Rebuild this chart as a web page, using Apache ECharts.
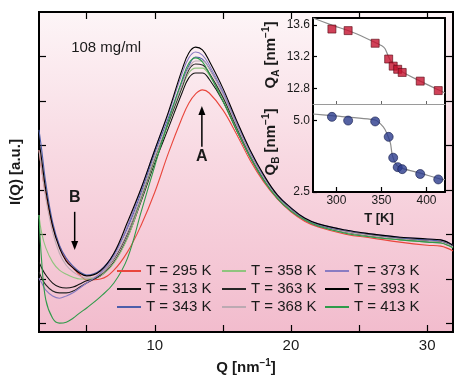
<!DOCTYPE html>
<html><head><meta charset="utf-8">
<script src="https://cdn.jsdelivr.net/npm/echarts@6/dist/echarts.min.js"></script>
<style>html,body{margin:0;padding:0;background:#fff}#c{width:461px;height:388px}</style>
</head><body><div id="c"></div>
<script>
// ---- main panel data: I(Q) curves (arbitrary units) ----
const qGrid = [1.5, 1.7, 2.0, 2.5, 3.0, 3.5, 4.0, 4.5, 5.0, 6.0, 7.0, 8.0, 9.0, 10.0, 11.0, 12.0, 12.5, 13.0, 13.5, 14.0, 15.0, 16.0, 17.0, 18.0, 19.0, 20.0, 21.0, 22.0, 24.0, 26.0, 28.0, 30.0, 31.0, 31.9];
const I295 = [4.90, 4.45, 3.89, 3.19, 2.74, 2.43, 2.25, 2.09, 1.98, 2.00, 2.20, 2.61, 3.21, 3.95, 4.83, 5.62, 5.95, 6.16, 6.25, 6.18, 5.80, 5.26, 4.67, 4.18, 3.80, 3.51, 3.30, 3.17, 3.01, 2.92, 2.83, 2.76, 2.74, 2.63];
const I313 = [2.38, 2.25, 2.09, 1.91, 1.82, 1.80, 1.82, 1.89, 1.96, 2.07, 2.38, 2.94, 3.75, 4.61, 5.39, 6.18, 6.52, 6.63, 6.63, 6.49, 6.00, 5.35, 4.74, 4.22, 3.82, 3.53, 3.33, 3.19, 3.06, 2.97, 2.90, 2.85, 2.83, 2.72];
const I343 = [5.35, 4.90, 4.16, 3.28, 2.76, 2.47, 2.29, 2.16, 2.09, 2.20, 2.56, 3.15, 3.95, 4.83, 5.62, 6.43, 6.79, 6.99, 6.94, 6.74, 6.18, 5.48, 4.83, 4.29, 3.86, 3.57, 3.35, 3.21, 3.08, 2.99, 2.92, 2.88, 2.85, 2.74];
const I358 = [3.44, 3.03, 2.70, 2.38, 2.20, 2.11, 2.04, 2.00, 2.00, 2.07, 2.36, 2.92, 3.78, 4.67, 5.48, 6.29, 6.63, 6.74, 6.74, 6.58, 6.07, 5.39, 4.76, 4.22, 3.82, 3.53, 3.33, 3.19, 3.03, 2.94, 2.88, 2.83, 2.81, 2.70];
const I363 = [2.16, 2.02, 1.87, 1.73, 1.69, 1.69, 1.73, 1.82, 1.91, 2.09, 2.45, 3.03, 3.84, 4.72, 5.51, 6.31, 6.70, 6.83, 6.81, 6.63, 6.09, 5.42, 4.79, 4.25, 3.84, 3.55, 3.33, 3.19, 3.06, 2.97, 2.90, 2.85, 2.83, 2.72];
const I368 = [4.90, 4.45, 3.82, 3.06, 2.58, 2.31, 2.16, 2.07, 2.02, 2.11, 2.47, 3.06, 3.86, 4.74, 5.55, 6.36, 6.74, 6.90, 6.90, 6.72, 6.16, 5.46, 4.81, 4.27, 3.84, 3.55, 3.33, 3.19, 3.06, 2.97, 2.90, 2.85, 2.83, 2.72];
const I373 = [2.02, 1.91, 1.75, 1.62, 1.57, 1.62, 1.69, 1.80, 1.91, 2.13, 2.52, 3.19, 4.02, 4.90, 5.71, 6.61, 6.97, 7.10, 7.03, 6.81, 6.22, 5.53, 4.88, 4.31, 3.89, 3.60, 3.37, 3.24, 3.10, 3.01, 2.94, 2.90, 2.88, 2.76];
const I393 = [5.12, 4.67, 4.00, 3.19, 2.70, 2.40, 2.25, 2.13, 2.07, 2.18, 2.58, 3.28, 4.04, 4.90, 5.75, 6.70, 7.08, 7.21, 7.15, 6.90, 6.29, 5.57, 4.90, 4.34, 3.89, 3.60, 3.37, 3.24, 3.10, 3.01, 2.94, 2.90, 2.88, 2.76];
const I413 = [3.44, 2.38, 1.53, 1.12, 1.01, 1.03, 1.12, 1.24, 1.35, 1.60, 1.91, 2.47, 3.51, 4.54, 5.55, 6.47, 6.85, 6.97, 6.88, 6.61, 6.00, 5.35, 4.74, 4.22, 3.82, 3.53, 3.33, 3.19, 3.03, 2.94, 2.88, 2.83, 2.81, 2.70];
const tempLabels = ['T = 295 K', 'T = 313 K', 'T = 343 K', 'T = 358 K', 'T = 363 K', 'T = 368 K', 'T = 373 K', 'T = 393 K', 'T = 413 K'];
const qxTicks = [5, 10, 15, 20, 25, 30];
const qxLabels = [10, 20, 30];
const iyTicks = [1, 2, 3, 4, 5, 6, 7];

// ---- inset data ----
const insetT = [295, 313, 343, 358, 363, 368, 373, 393, 413];
const insetQA = [13.55, 13.53, 13.37, 13.17, 13.08, 13.04, 13.00, 12.89, 12.77];
const insetQB = [5.13, 5.00, 4.97, 4.43, 3.70, 3.37, 3.30, 3.13, 2.94];
const fitAT = [274, 295, 320, 343, 350, 354, 357, 360, 373, 393, 413, 420.5];
const fitAQ = [13.69, 13.60, 13.50, 13.38, 13.34, 13.30, 13.22, 13.15, 13.01, 12.89, 12.78, 12.74];
const fitBT = [274, 295, 343, 352, 356, 360, 362, 367, 374, 393, 415, 420.5];
const fitBQ = [5.23, 5.17, 5.02, 4.78, 4.55, 4.20, 3.79, 3.43, 3.32, 3.16, 2.96, 2.93];
const tTicks = [300, 350, 400];
const qaTicks = [12.8, 13.2, 13.6];
const qbTicks = [2.5, 5.0];

// ---- annotations (data coordinates) ----
const arrowA = [[13.46, 4.97], [13.46, 5.89]];
const arrowB = [[4.12, 3.51], [4.12, 2.65]];
const textMarks = [
  {name: 'A', coord: [13.46, 4.74], bold: true},
  {name: 'B', coord: [4.12, 3.84], bold: true},
  {name: '108 mg/ml', coord: [6.43, 7.19], bold: false}
];

const FONT = '"Liberation Sans", Arial, Helvetica, sans-serif';
const TXT = '#1a1a1a';
const curveSets = [I295, I313, I343, I358, I363, I368, I373, I393, I413];
const curveColors = ['#e9463c', '#111111', '#4d5eaa', '#8fc47e', '#262626', '#bcaab2', '#8a7cc2', '#000000', '#2f9b4a'];

const chart = echarts.init(document.getElementById('c'), null, {renderer: 'canvas'});

const mainSeries = curveSets.map((arr, k) => ({
  name: tempLabels[k], type: 'line', xAxisIndex: 0, yAxisIndex: 0,
  data: qGrid.map((q, i) => [q, arr[i]]),
  symbol: 'none', showSymbol: false, smooth: 0.4,
  lineStyle: {width: 1.1, color: curveColors[k]}, itemStyle: {color: curveColors[k]},
  z: 3
}));
mainSeries[0].markPoint = {
  silent: true, symbol: 'circle', symbolSize: 1,
  itemStyle: {color: 'rgba(0,0,0,0)'},
  data: textMarks.map(t => ({
    name: t.name, coord: t.coord,
    label: {show: true, position: 'inside', formatter: t.name, color: TXT,
      fontFamily: FONT, fontSize: t.bold ? 16 : 15, fontWeight: t.bold ? 'bold' : 'normal'}
  }))
};

const bgGrad = new echarts.graphic.LinearGradient(0, 0, 0, 1, [
  {offset: 0, color: '#fdf5f7'},
  {offset: 0.45, color: '#f8d9e2'},
  {offset: 1, color: '#f2bccd'}
]);

const tickStyle = {color: '#000', width: 1.2};
const nameRich = {
  b: {fontSize: 15, fontWeight: 'bold', fontFamily: FONT, color: TXT, lineHeight: 20},
  s: {fontSize: 10, fontWeight: 'bold', fontFamily: FONT, color: TXT, lineHeight: 10, verticalAlign: 'top'},
  u: {fontSize: 10, fontWeight: 'bold', fontFamily: FONT, color: TXT, lineHeight: 10, verticalAlign: 'bottom'}
};

const insetAxisLabel = (vals) => ({customValues: vals, fontSize: 12, color: TXT, fontFamily: FONT, margin: 3,
  formatter: v => Number(v).toFixed(1)});

const option = {
  animation: false,
  backgroundColor: '#fff',
  grid: [
    {left: 39, top: 12, right: 8, bottom: 56, show: true, backgroundColor: bgGrad, borderColor: '#000', borderWidth: 2, containLabel: false, outerBoundsMode: 'none'},
    {left: 313, top: 18, width: 132, height: 86, show: true, backgroundColor: '#fff', borderWidth: 0, containLabel: false, outerBoundsMode: 'none'},
    {left: 313, top: 104, width: 132, height: 88, show: true, backgroundColor: '#fff', borderWidth: 0, containLabel: false, outerBoundsMode: 'none'}
  ],
  xAxis: [
    {gridIndex: 0, type: 'value', min: 1.5, max: 31.9, position: 'bottom',
      axisLine: {show: false, onZero: false}, splitLine: {show: false},
      axisTick: {show: true, inside: true, length: 7, customValues: qxTicks, lineStyle: tickStyle},
      axisLabel: {customValues: qxLabels, fontSize: 15, color: TXT, fontFamily: FONT, margin: 6},
      name: '{b|Q [nm}{s|−1}{b|]}', nameLocation: 'middle', nameGap: 25,
      nameTextStyle: {rich: nameRich}},
    {gridIndex: 0, type: 'value', min: 1.5, max: 31.9, position: 'top',
      axisLine: {show: false, onZero: false}, splitLine: {show: false},
      axisTick: {show: true, inside: true, length: 7, customValues: qxTicks, lineStyle: tickStyle},
      axisLabel: {show: false}},
    {gridIndex: 1, type: 'value', min: 274, max: 420.5, position: 'bottom',
      axisLine: {show: true, onZero: false, lineStyle: {color: '#9a9a9a', width: 1}}, splitLine: {show: false},
      axisTick: {show: true, inside: true, length: 3, customValues: tTicks, lineStyle: {color: '#666', width: 1}},
      axisLabel: {show: false}},
    {gridIndex: 1, type: 'value', min: 274, max: 420.5, position: 'top',
      axisLine: {show: true, onZero: false, lineStyle: {color: '#000', width: 2}}, splitLine: {show: false},
      axisTick: {show: false}, axisLabel: {show: false}},
    {gridIndex: 2, type: 'value', min: 274, max: 420.5, position: 'bottom',
      axisLine: {show: true, onZero: false, lineStyle: {color: '#000', width: 2}}, splitLine: {show: false},
      axisTick: {show: true, inside: true, length: 5, customValues: tTicks, lineStyle: tickStyle},
      axisLabel: {customValues: tTicks, fontSize: 12, color: TXT, fontFamily: FONT, margin: 3},
      name: 'T [K]', nameLocation: 'middle', nameGap: 20,
      nameTextStyle: {fontSize: 13, fontWeight: 'bold', fontFamily: FONT, color: TXT}}
  ],
  yAxis: [
    {gridIndex: 0, type: 'value', min: 0.81, max: 8, position: 'left',
      axisLine: {show: false, onZero: false}, splitLine: {show: false},
      axisTick: {show: true, inside: true, length: 7, customValues: iyTicks, lineStyle: tickStyle},
      axisLabel: {show: false},
      name: 'I(Q) [a.u.]', nameLocation: 'middle', nameGap: 16,
      nameTextStyle: {fontSize: 15, fontWeight: 'bold', fontFamily: FONT, color: TXT}},
    {gridIndex: 0, type: 'value', min: 0.81, max: 8, position: 'right',
      axisLine: {show: false, onZero: false}, splitLine: {show: false},
      axisTick: {show: true, inside: true, length: 7, customValues: iyTicks, lineStyle: tickStyle},
      axisLabel: {show: false}},
    {gridIndex: 1, type: 'value', min: 12.6, max: 13.69, position: 'left',
      axisLine: {show: true, onZero: false, lineStyle: {color: '#000', width: 2}}, splitLine: {show: false},
      axisTick: {show: true, inside: true, length: 4, customValues: qaTicks, lineStyle: tickStyle},
      axisLabel: insetAxisLabel(qaTicks),
      name: '{b|Q}{u|A}{b| [nm}{s|−1}{b|]}', nameLocation: 'middle', nameGap: 32,
      nameTextStyle: {rich: nameRich, padding: [0, 0, 0, 12]}},
    {gridIndex: 1, type: 'value', min: 12.6, max: 13.69, position: 'right',
      axisLine: {show: true, onZero: false, lineStyle: {color: '#000', width: 2}}, splitLine: {show: false},
      axisTick: {show: false}, axisLabel: {show: false}},
    {gridIndex: 2, type: 'value', min: 2.5, max: 5.58, position: 'left',
      axisLine: {show: true, onZero: false, lineStyle: {color: '#000', width: 2}}, splitLine: {show: false},
      axisTick: {show: true, inside: true, length: 4, customValues: qbTicks, lineStyle: tickStyle},
      axisLabel: insetAxisLabel(qbTicks),
      name: '{b|Q}{u|B}{b| [nm}{s|−1}{b|]}', nameLocation: 'middle', nameGap: 32,
      nameTextStyle: {rich: nameRich, padding: [0, 0, 0, 12]}},
    {gridIndex: 2, type: 'value', min: 2.5, max: 5.58, position: 'right',
      axisLine: {show: true, onZero: false, lineStyle: {color: '#000', width: 2}}, splitLine: {show: false},
      axisTick: {show: false}, axisLabel: {show: false}}
  ],
  legend: [[0, 1, 2], [3, 4, 5], [6, 7, 8]].map((idx, k) => ({
    orient: 'vertical', left: [117, 222, 325][k], top: 262, padding: 0, itemGap: 0,
    itemWidth: 24, itemHeight: 2, icon: 'rect', selectedMode: false,
    data: idx.map(i => tempLabels[i]),
    textStyle: {fontSize: 15, lineHeight: 18, color: TXT, fontFamily: FONT}
  })),
  series: mainSeries.concat([
    {type: 'line', xAxisIndex: 2, yAxisIndex: 2, data: fitAT.map((t, i) => [t, fitAQ[i]]),
      symbol: 'none', smooth: 0.2, lineStyle: {color: '#8c8c8c', width: 1.2}, z: 3},
    {type: 'scatter', xAxisIndex: 2, yAxisIndex: 2, data: insetT.map((t, i) => [t, insetQA[i]]),
      symbol: 'rect', symbolSize: 8, itemStyle: {color: '#c4122e', borderColor: '#5a0a14', borderWidth: 0.8}, z: 4},
    {type: 'line', xAxisIndex: 4, yAxisIndex: 4, data: fitBT.map((t, i) => [t, fitBQ[i]]),
      symbol: 'none', smooth: 0.2, lineStyle: {color: '#8c8c8c', width: 1.2}, z: 3},
    {type: 'scatter', xAxisIndex: 4, yAxisIndex: 4, data: insetT.map((t, i) => [t, insetQB[i]]),
      symbol: 'circle', symbolSize: 9, itemStyle: {color: '#2b3b8c', borderColor: '#141c4c', borderWidth: 0.8}, z: 4}
  ])
};
chart.setOption(option);

// arrows drawn from data coordinates through the main axes
function arrowElements(a) {
  const p0 = chart.convertToPixel({seriesIndex: 0}, a[0]);
  const p1 = chart.convertToPixel({seriesIndex: 0}, a[1]);
  const dir = p1[1] > p0[1] ? 1 : -1;
  const headLen = 9, headHalf = 3.5;
  return [
    {type: 'line', z: 10, shape: {x1: p0[0], y1: p0[1], x2: p1[0], y2: p1[1] - dir * (headLen - 1)},
      style: {stroke: '#000', lineWidth: 1.5}},
    {type: 'polygon', z: 10, shape: {points: [[p1[0], p1[1]], [p1[0] - headHalf, p1[1] - dir * headLen], [p1[0] + headHalf, p1[1] - dir * headLen]]},
      style: {fill: '#000'}}
  ];
}
chart.setOption({graphic: {elements: arrowElements(arrowA).concat(arrowElements(arrowB))}});
</script>
</body></html>
